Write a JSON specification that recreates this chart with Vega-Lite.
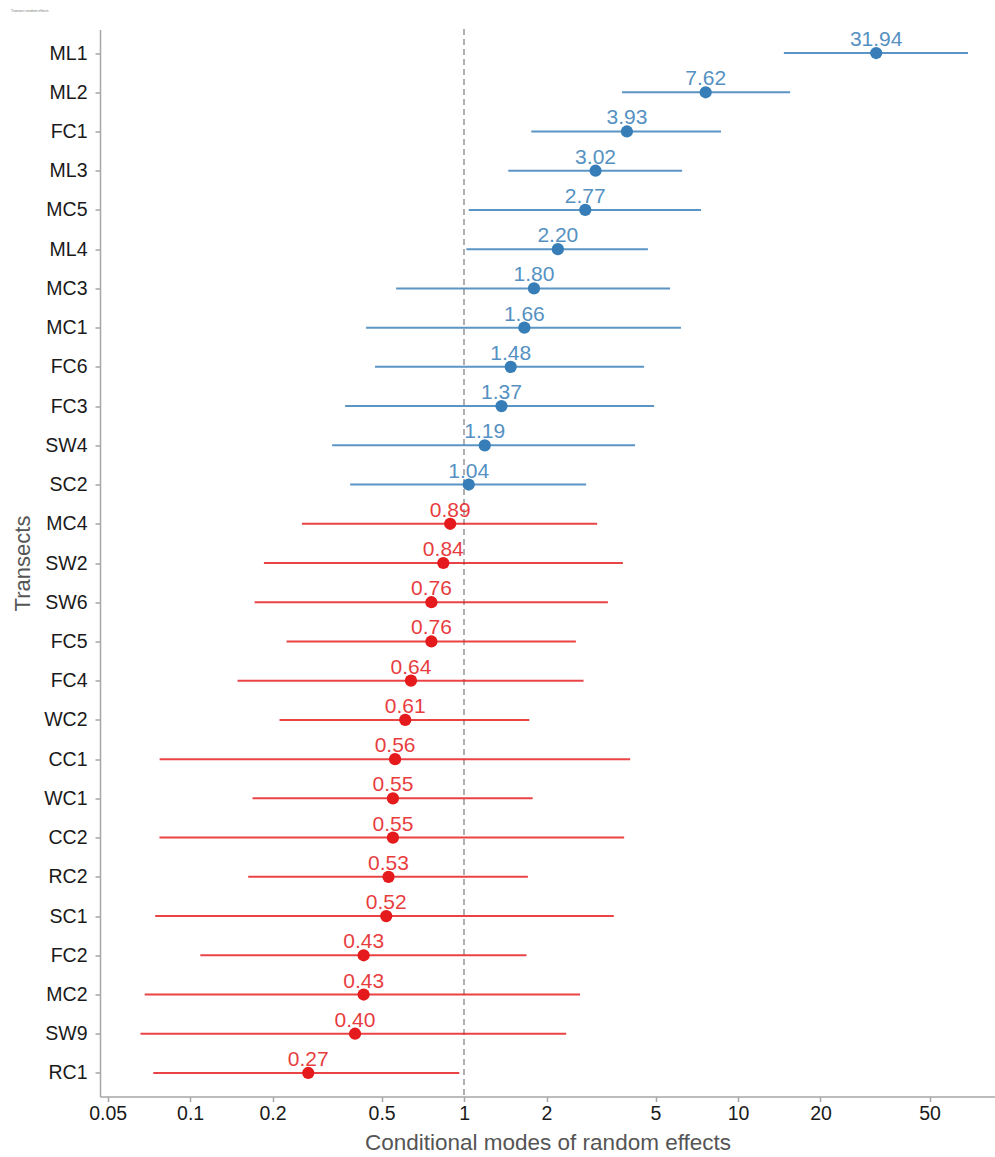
{
  "$schema": "https://vega.github.io/schema/vega-lite/v6.json",
  "autosize": {"type": "none"},
  "padding": {"left": 100, "top": 29.5, "right": 0, "bottom": 60.5},
  "width": 895,
  "height": 1067,
  "background": "white",
  "title": {"text": "Transect random effects", "fontSize": 3.5, "color": "#777777", "anchor": "start", "offset": 16, "font": "Liberation Sans", "fontWeight": "normal"},
  "data": {"values": [
    {"transect": "ML1", "estimate": 31.94, "lower": 14.7, "upper": 69.1, "dir": "pos"},
    {"transect": "ML2", "estimate": 7.62, "lower": 3.77, "upper": 15.5, "dir": "pos"},
    {"transect": "FC1", "estimate": 3.93, "lower": 1.76, "upper": 8.67, "dir": "pos"},
    {"transect": "ML3", "estimate": 3.02, "lower": 1.45, "upper": 6.25, "dir": "pos"},
    {"transect": "MC5", "estimate": 2.77, "lower": 1.04, "upper": 7.33, "dir": "pos"},
    {"transect": "ML4", "estimate": 2.20, "lower": 1.02, "upper": 4.69, "dir": "pos"},
    {"transect": "MC3", "estimate": 1.80, "lower": 0.565, "upper": 5.65, "dir": "pos"},
    {"transect": "MC1", "estimate": 1.66, "lower": 0.439, "upper": 6.19, "dir": "pos"},
    {"transect": "FC6", "estimate": 1.48, "lower": 0.473, "upper": 4.54, "dir": "pos"},
    {"transect": "FC3", "estimate": 1.37, "lower": 0.368, "upper": 4.94, "dir": "pos"},
    {"transect": "SW4", "estimate": 1.19, "lower": 0.330, "upper": 4.21, "dir": "pos"},
    {"transect": "SC2", "estimate": 1.04, "lower": 0.384, "upper": 2.79, "dir": "pos"},
    {"transect": "MC4", "estimate": 0.89, "lower": 0.256, "upper": 3.06, "dir": "neg"},
    {"transect": "SW2", "estimate": 0.84, "lower": 0.186, "upper": 3.80, "dir": "neg"},
    {"transect": "SW6", "estimate": 0.76, "lower": 0.172, "upper": 3.35, "dir": "neg"},
    {"transect": "FC5", "estimate": 0.76, "lower": 0.225, "upper": 2.56, "dir": "neg"},
    {"transect": "FC4", "estimate": 0.64, "lower": 0.149, "upper": 2.73, "dir": "neg"},
    {"transect": "WC2", "estimate": 0.61, "lower": 0.212, "upper": 1.73, "dir": "neg"},
    {"transect": "CC1", "estimate": 0.56, "lower": 0.0774, "upper": 4.04, "dir": "neg"},
    {"transect": "WC1", "estimate": 0.55, "lower": 0.169, "upper": 1.78, "dir": "neg"},
    {"transect": "CC2", "estimate": 0.55, "lower": 0.0773, "upper": 3.84, "dir": "neg"},
    {"transect": "RC2", "estimate": 0.53, "lower": 0.163, "upper": 1.71, "dir": "neg"},
    {"transect": "SC1", "estimate": 0.52, "lower": 0.0746, "upper": 3.52, "dir": "neg"},
    {"transect": "FC2", "estimate": 0.43, "lower": 0.109, "upper": 1.69, "dir": "neg"},
    {"transect": "MC2", "estimate": 0.43, "lower": 0.0683, "upper": 2.65, "dir": "neg"},
    {"transect": "SW9", "estimate": 0.40, "lower": 0.0659, "upper": 2.36, "dir": "neg"},
    {"transect": "RC1", "estimate": 0.27, "lower": 0.0734, "upper": 0.961, "dir": "neg"}
  ]},
  "encoding": {
    "y": {
      "field": "transect", "type": "nominal", "sort": null,
      "scale": {"type": "point", "padding": 0.6},
      "axis": {
        "title": "Transects", "titleFont": "Liberation Sans", "titleFontSize": 22, "titleFontWeight": "normal", "titleColor": "#555555",
        "titleX": -78, "titleBaseline": "middle",
        "labelFont": "Liberation Sans", "labelFontSize": 19.5, "labelColor": "#1a1a1a", "labelPadding": 8,
        "tickSize": 5, "tickColor": "#a6a6a6", "tickWidth": 1.5,
        "domainColor": "#a6a6a6", "domainWidth": 1.5, "grid": false
      }
    }
  },
  "layer": [
    {
      "mark": {"type": "rule", "strokeDash": [5, 5], "color": "#b0b0b0", "strokeWidth": 1.5},
      "encoding": {"x": {"datum": 1, "type": "quantitative"}, "y": null}
    },
    {
      "mark": {"type": "rule", "strokeWidth": 2, "opacity": 0.82},
      "encoding": {
        "x": {
          "field": "lower", "type": "quantitative",
          "scale": {"type": "log", "domain": [0.0469, 86.7], "nice": false, "zero": false},
          "axis": {
            "title": "Conditional modes of random effects", "titleFont": "Liberation Sans", "titleFontSize": 22.5, "titleFontWeight": "normal", "titleColor": "#555555", "titlePadding": 8,
            "values": [0.05, 0.1, 0.2, 0.5, 1, 2, 5, 10, 20, 50], "format": "~g",
            "labelFont": "Liberation Sans", "labelFontSize": 19.5, "labelColor": "#1a1a1a", "labelPadding": 3,
            "tickSize": 5, "tickColor": "#a6a6a6", "tickWidth": 1.5,
            "domainColor": "#a6a6a6", "domainWidth": 1.5, "grid": false
          }
        },
        "x2": {"field": "upper"},
        "color": {"field": "dir", "type": "nominal", "scale": {"domain": ["pos", "neg"], "range": ["#377EB8", "#E41A1C"]}, "legend": null}
      }
    },
    {
      "mark": {"type": "point", "filled": true, "size": 150, "opacity": 1},
      "encoding": {
        "x": {"field": "estimate", "type": "quantitative"},
        "color": {"field": "dir", "type": "nominal", "legend": null}
      }
    },
    {
      "mark": {"type": "text", "dy": -7, "baseline": "alphabetic", "align": "center", "fontSize": 21, "font": "Liberation Sans", "opacity": 0.85},
      "encoding": {
        "x": {"field": "estimate", "type": "quantitative"},
        "text": {"field": "estimate", "type": "quantitative", "format": ".2f"},
        "color": {"field": "dir", "type": "nominal", "legend": null}
      }
    }
  ],
  "config": {"view": {"stroke": null}}
}
